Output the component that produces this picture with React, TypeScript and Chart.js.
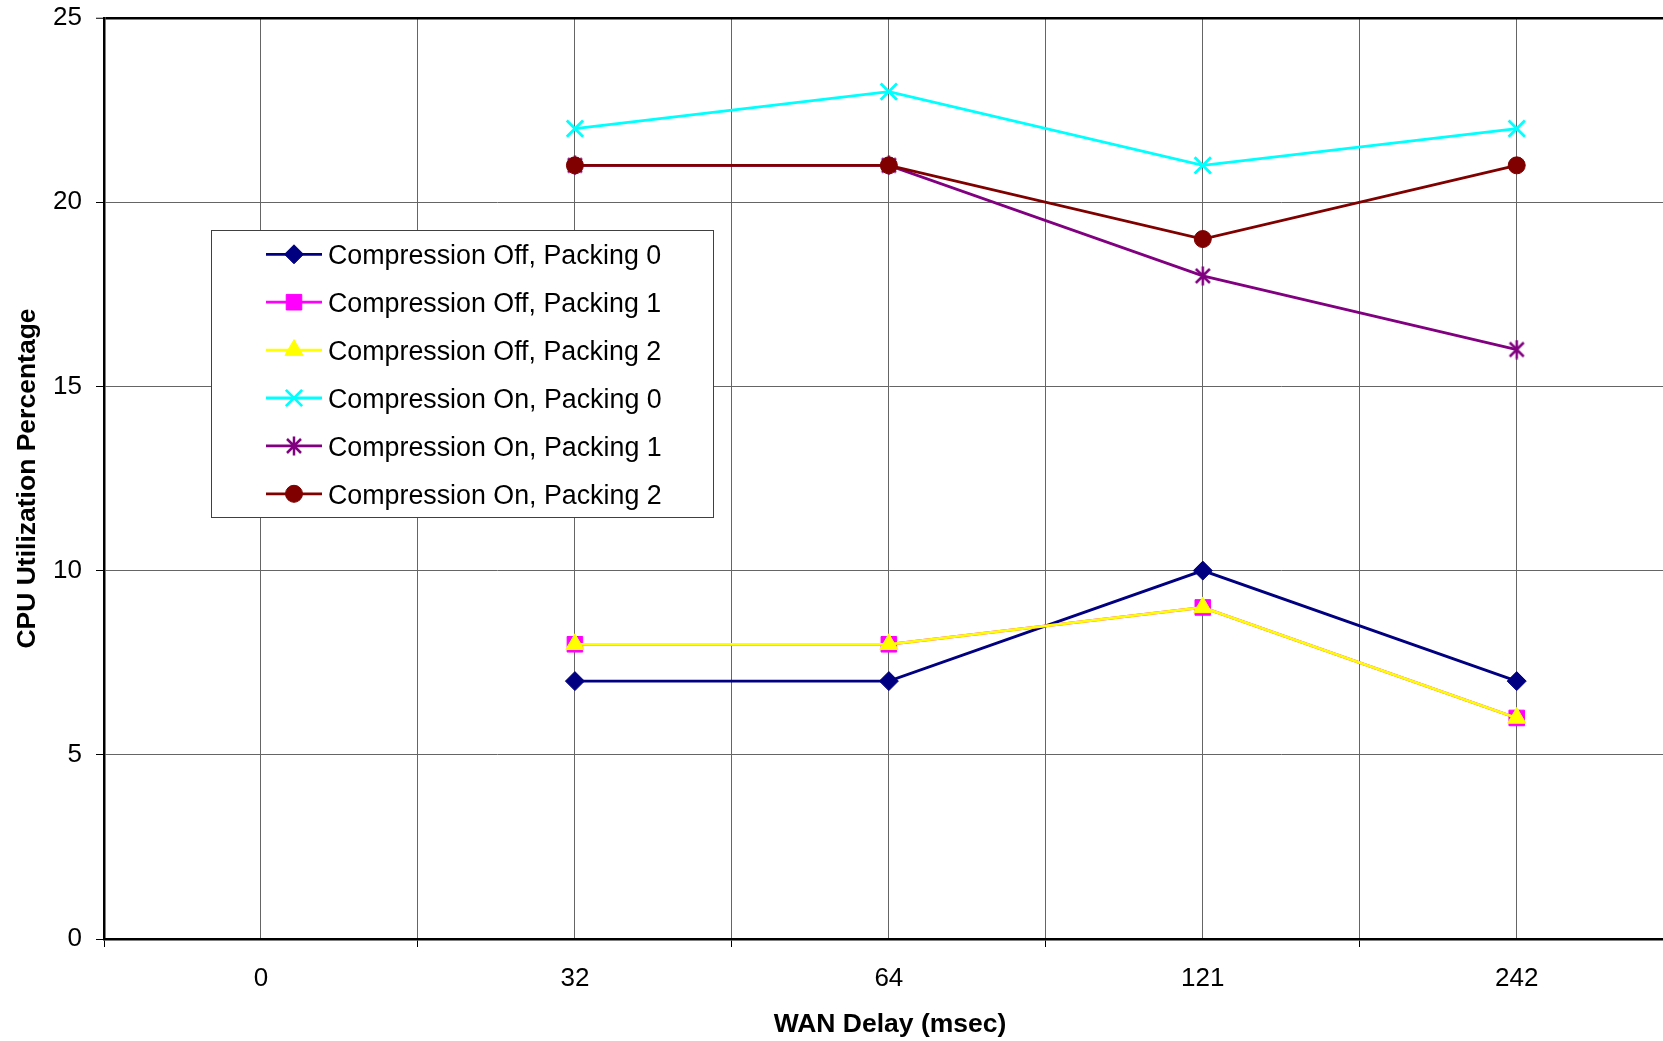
import React, { useEffect, useRef } from 'react';
import { Chart, registerables } from 'chart.js';
import { drawPoint } from 'chart.js/helpers';

Chart.register(...registerables);

// ---- data ----
const categories = ['0', '32', '64', '121', '242'];
const offPacking0: (number | null)[] = [null, 7, 7, 10, 7];
const offPacking1: (number | null)[] = [null, 8, 8, 9, 6];
const offPacking2: (number | null)[] = [null, 8, 8, 9, 6];
const onPacking0: (number | null)[] = [null, 22, 23, 21, 22];
const onPacking1: (number | null)[] = [null, 21, 21, 18, 16];
const onPacking2: (number | null)[] = [null, 21, 21, 19, 21];
const seriesNames = [
  'Compression Off, Packing 0',
  'Compression Off, Packing 1',
  'Compression Off, Packing 2',
  'Compression On, Packing 0',
  'Compression On, Packing 1',
  'Compression On, Packing 2',
];
const yMin = 0;
const yMax = 25;
const yStep = 5;
const xTitle = 'WAN Delay (msec)';
const yTitle = 'CPU Utilization Percentage';

const FONT = '"Liberation Sans", Arial, Helvetica, sans-serif';

function makeAsterisk(color: string): HTMLCanvasElement {
  const c = document.createElement('canvas');
  c.width = 20;
  c.height = 20;
  const g = c.getContext('2d')!;
  g.strokeStyle = color;
  g.lineWidth = 2.5;
  g.beginPath();
  g.moveTo(3, 3); g.lineTo(17, 17);
  g.moveTo(17, 3); g.lineTo(3, 17);
  g.moveTo(10, 0.5); g.lineTo(10, 19.5);
  g.stroke();
  return c;
}

export default function App() {
  const ref = useRef<HTMLCanvasElement | null>(null);

  useEffect(() => {
    if (!ref.current) return;
    const asterisk = makeAsterisk('#800080');
    const values = [offPacking0, offPacking1, offPacking2, onPacking0, onPacking1, onPacking2];
    const styles = [
      { color: '#000080', pointStyle: 'rectRot', radius: 9.5, pbw: 1 },
      { color: '#FF00FF', pointStyle: 'rect', radius: 11, pbw: 1 },
      { color: '#FFFF00', pointStyle: 'triangle', radius: 10.5, pbw: 1 },
      { color: '#00FFFF', pointStyle: 'crossRot', radius: 11.5, pbw: 2.8 },
      { color: '#800080', pointStyle: asterisk as any, radius: 10, pbw: 2.8 },
      { color: '#800000', pointStyle: 'circle', radius: 8.5, pbw: 1 },
    ];

    const datasets = values.map((vals, i) => ({
      label: seriesNames[i],
      data: vals
        .map((v, idx) => (v == null ? null : { x: idx, y: v }))
        .filter((p) => p !== null),
      borderColor: styles[i].color,
      backgroundColor: styles[i].color,
      borderWidth: 2.8,
      pointStyle: styles[i].pointStyle,
      pointRadius: styles[i].radius,
      pointBorderWidth: styles[i].pbw,
      pointBorderColor: styles[i].color,
      pointBackgroundColor: styles[i].color,
      tension: 0,
      fill: false,
      order: 10 - i,
    }));

    const overlay = {
      id: 'overlay',
      afterDraw(chart: any) {
        const ctx = chart.ctx as CanvasRenderingContext2D;
        ctx.save();
        // legend box
        const lx = 211, ly = 230, lw = 503, lh = 288;
        ctx.fillStyle = '#ffffff';
        ctx.fillRect(lx, ly, lw, lh);
        ctx.strokeStyle = '#404040';
        ctx.lineWidth = 1;
        ctx.strokeRect(lx + 0.5, ly + 0.5, lw - 1, lh - 1);
        for (let i = 0; i < seriesNames.length; i++) {
          const y = 254.3 + i * 47.9;
          const s = styles[i];
          ctx.strokeStyle = s.color;
          ctx.lineWidth = 2.8;
          ctx.beginPath();
          ctx.moveTo(266, y);
          ctx.lineTo(322, y);
          ctx.stroke();
          ctx.fillStyle = s.color;
          ctx.strokeStyle = s.color;
          ctx.lineWidth = s.pbw;
          drawPoint(ctx, { pointStyle: s.pointStyle, radius: s.radius, rotation: 0, borderWidth: s.pbw } as any, 294, y);
          ctx.fillStyle = '#000';
          ctx.font = `26.8px ${FONT}`;
          ctx.textAlign = 'left';
          ctx.textBaseline = 'alphabetic';
          ctx.fillText(seriesNames[i], 328, y + 10);
        }
        // axis titles
        ctx.fillStyle = '#000';
        ctx.font = `bold 26.5px ${FONT}`;
        ctx.textAlign = 'center';
        ctx.textBaseline = 'alphabetic';
        const area = chart.chartArea;
        ctx.fillText(xTitle, 890, 1032);
        ctx.translate(35, (area.top + area.bottom) / 2);
        ctx.rotate(-Math.PI / 2);
        ctx.fillText(yTitle, 0, 0);
        ctx.restore();
      },
    };

    const chart = new Chart(ref.current, {
      type: 'line',
      data: { datasets: datasets as any },
      options: {
        animation: false,
        responsive: false,
        devicePixelRatio: 1,
        layout: { padding: { top: 18, right: 5, left: 0, bottom: 0 } },
        plugins: { legend: { display: false }, tooltip: { enabled: false } },
        scales: {
          x: {
            type: 'linear',
            min: -0.5,
            max: categories.length - 0.5,
            afterFit: (s: any) => {
              s.height = 102;
              s.paddingLeft = 0;
              s.paddingRight = 0;
            },
            afterBuildTicks: (s: any) => {
              const t = [];
              for (let v = -0.5; v <= categories.length - 0.5 + 1e-9; v += 0.5) t.push({ value: v });
              s.ticks = t;
            },
            ticks: {
              autoSkip: false,
              maxRotation: 0,
              minRotation: 0,
              color: '#000',
              padding: 16,
              font: { family: FONT, size: 26 },
              callback: (v: any) => (Number.isInteger(v) ? categories[v] : ''),
            },
            grid: {
              color: '#656565',
              lineWidth: 1,
              tickLength: 8,
              tickColor: (c: any) => (c.tick && Number.isInteger(c.tick.value) ? 'rgba(0,0,0,0)' : '#000'),
            },
            border: { color: '#000', width: 2.5 },
          },
          y: {
            min: yMin,
            max: yMax,
            afterFit: (s: any) => {
              s.width = 104;
              s.paddingTop = 0;
              s.paddingBottom = 0;
            },
            ticks: {
              stepSize: yStep,
              color: '#000',
              padding: 14,
              font: { family: FONT, size: 26 },
            },
            grid: {
              color: (c: any) => (c.tick && c.tick.value === yMax ? '#000' : '#656565'),
              lineWidth: (c: any) => (c.tick && c.tick.value === yMax ? 2.5 : 1),
              tickLength: 8,
              tickColor: '#000',
              tickWidth: 1,
            },
            border: { color: '#000', width: 2.5 },
          },
        },
      },
      plugins: [overlay],
    });
    return () => chart.destroy();
  }, []);

  return (
    <div style={{ position: 'fixed', left: 0, top: 0, width: 1663, height: 1041, overflow: 'hidden', background: '#fff' }}>
      <canvas ref={ref} width={1688} height={1041} style={{ width: 1688, height: 1041, display: 'block' }} />
    </div>
  );
}
